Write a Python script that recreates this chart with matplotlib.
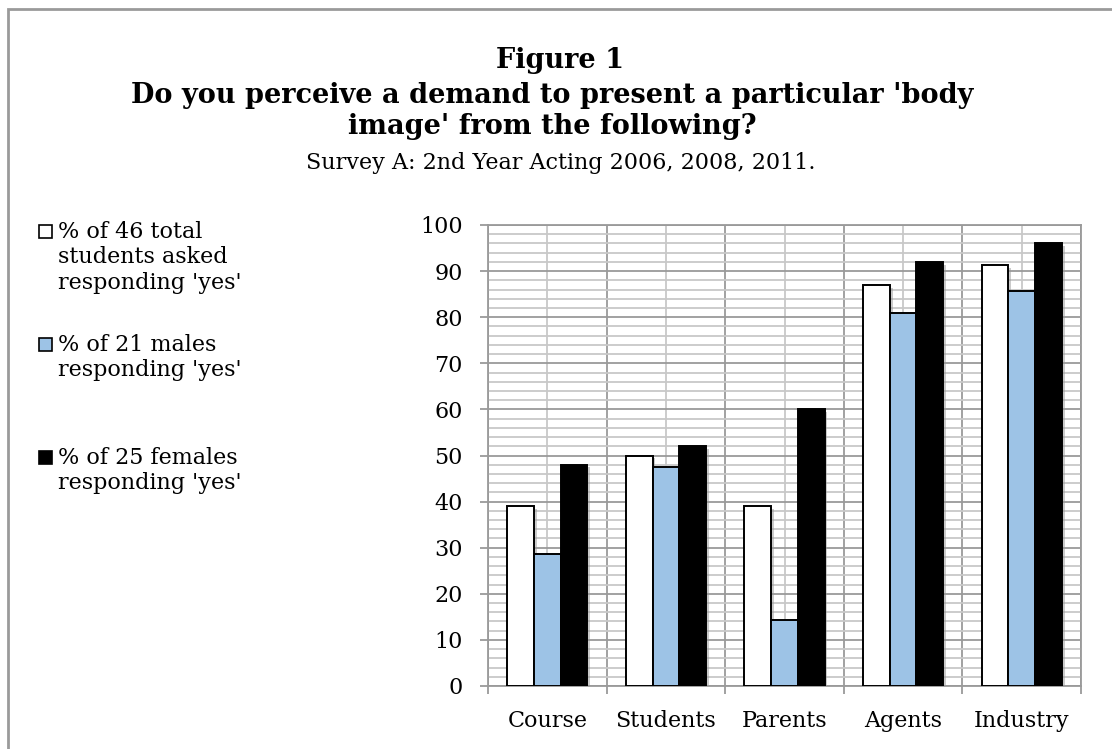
import numpy as np
import matplotlib.pyplot as plt
from matplotlib.patches import Rectangle
import matplotlib.patheffects as pe

plt.rcParams['font.family'] = ['DejaVu Serif']

# survey results, percent answering 'yes'
categories = ['Course', 'Students', 'Parents', 'Agents', 'Industry']
total_pct = [39.1, 50.0, 39.1, 87.0, 91.3]
male_pct = [28.6, 47.6, 14.3, 81.0, 85.7]
female_pct = [48.0, 52.0, 60.0, 92.0, 96.0]
series_labels = ["% of 46 total\nstudents asked\nresponding 'yes'",
                 "% of 21 males\nresponding 'yes'",
                 "% of 25 females\nresponding 'yes'"]
colours = ['white', '#9dc3e6', 'black']

fs = 16

fig = plt.figure(figsize=(11.12, 7.49), dpi=100)
ax = fig.add_axes([488/1112, 1-686/749, (1081-488)/1112, (686-225)/749])

x = np.arange(len(categories))
w = 0.225
shadow = [pe.SimplePatchShadow(offset=(2, -2), shadow_rgbFace='#999999', alpha=0.5), pe.Normal()]
for i, (vals, col) in enumerate(zip([total_pct, male_pct, female_pct], colours)):
    ax.bar(x + (i - 1) * w, vals, w, color=col, edgecolor='black', linewidth=1.4,
           zorder=3, path_effects=shadow)

ax.set_xlim(-0.5, len(categories) - 0.5)
ax.set_ylim(0, 100)
ax.set_yticks(np.arange(0, 101, 10))
ax.set_yticks(np.arange(0, 101, 2), minor=True)
ax.set_xticks(np.arange(-0.5, len(categories)))
ax.set_xticklabels([])
ax.set_xticks(x, minor=True)
ax.set_xticklabels(categories, minor=True)

ax.grid(which='major', color='#9a9a9a', linewidth=1.3, zorder=0)
ax.grid(which='minor', color='#c8c8c8', linewidth=1.3, zorder=0)
ax.set_axisbelow(True)
ax.tick_params(axis='both', which='major', length=6, width=1.3, color='#9a9a9a',
               labelsize=fs)
ax.tick_params(axis='y', which='major', pad=12)
ax.tick_params(axis='y', which='minor', length=0)
ax.tick_params(axis='x', which='minor', length=0, pad=17, labelsize=fs)
for s in ax.spines.values():
    s.set_color('#9a9a9a')
    s.set_linewidth(1.3)

# titles
fig.text(0.504, 1-60/749, 'Figure 1', ha='center', va='center', fontsize=19.5, fontweight='bold')
fig.text(0.497, 1-111/749, "Do you perceive a demand to present a particular 'body\nimage' from the following?",
         ha='center', va='center', fontsize=19.5, fontweight='bold', linespacing=1.2)
fig.text(0.504, 1-163/749, 'Survey A: 2nd Year Acting 2006, 2008, 2011.', ha='center',
         va='center', fontsize=fs)

# legend
legend_y = [232, 345, 458]
for y, lab, col in zip(legend_y, series_labels, colours):
    fig.add_artist(Rectangle((39/1112, 1-(y+6)/749), 13/1112, 13/749, facecolor=col,
                             edgecolor='black', linewidth=1.2, transform=fig.transFigure))
    fig.text(58/1112, 1-(y-11)/749, lab, ha='left', va='top', fontsize=fs, linespacing=1.2)

# outer frame
fig.add_artist(Rectangle((8/1112, -0.1), 1.2, 1-9/749+0.1, fill=False,
                         edgecolor='#9a9a9a', linewidth=2, transform=fig.transFigure))

fig.savefig('out.png', dpi=100)
